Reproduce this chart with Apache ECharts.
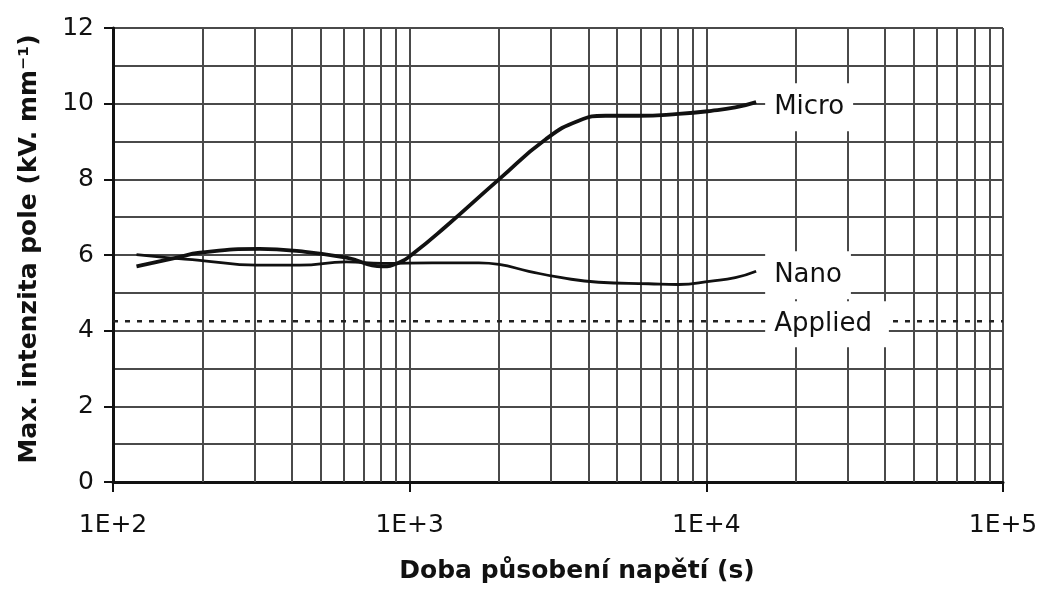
<!DOCTYPE html>
<html>
<head>
<meta charset="utf-8">
<script src="https://cdn.jsdelivr.net/npm/echarts@6/dist/echarts.min.js"></script>
<style>
html,body{margin:0;padding:0;background:#fff;}
#chart{width:1047px;height:589px;}
</style>
</head>
<body>
<div id="chart"></div>
<script>
// ---- data ----
var microX = [120, 164, 196, 312, 425, 612, 809, 922, 1018, 1327, 2000, 2876, 3715, 4577, 5902, 8054, 10390, 12520, 14720];
var microY = [5.70, 5.93, 6.06, 6.16, 6.10, 5.93, 5.70, 5.80, 6.01, 6.76, 8.0, 9.06, 9.55, 9.68, 9.68, 9.73, 9.81, 9.90, 10.04];
var nanoX = [120, 152, 196, 305, 425, 612, 809, 1190, 1712, 2000, 2521, 3254, 4335, 6383, 8054, 10390, 12520, 14720];
var nanoY = [6.01, 5.93, 5.86, 5.73, 5.73, 5.82, 5.78, 5.79, 5.79, 5.75, 5.57, 5.40, 5.28, 5.24, 5.22, 5.31, 5.40, 5.57];
var appliedX = [100, 14720, 100000];
var appliedY = [4.25, 4.25, 4.25];
var seriesNames = ['Micro', 'Nano', 'Applied'];
var xTickLabels = ['1E+2', '1E+3', '1E+4', '1E+5'];
var yTicks = [0, 2, 4, 6, 8, 10, 12];
var xTitle = 'Doba působení napětí (s)';
var yTitle = 'Max. intenzita pole (kV. mm⁻¹)';

function zip(xs, ys) { return xs.map(function (x, i) { return [x, ys[i]]; }); }

// minor vertical grid positions 2..9 x each decade
var minorX = [];
[100, 1000, 10000].forEach(function (d) { for (var k = 2; k <= 9; k++) minorX.push(k * d); });

var FONT = 'DejaVu Sans';
var GRID = '#4a4a4a';
var labelBox = {
  show: true, color: '#111', fontFamily: FONT, fontSize: 26, opacity: 1,
  backgroundColor: '#fff', padding: [11, 9, 11, 9]
};

var chart = echarts.init(document.getElementById('chart'), null, {renderer: 'canvas'});
chart.setOption({
  animation: false,
  backgroundColor: '#fff',
  grid: {left: 113, right: 44, top: 28, bottom: 107},
  xAxis: {
    type: 'log', logBase: 10, min: 100, max: 100000,
    name: xTitle, nameLocation: 'middle', nameGap: 77,
    nameTextStyle: {fontFamily: FONT, fontWeight: 'bold', fontSize: 25, color: '#111', padding: [0, 0, 0, 38]},
    axisLine: {show: true, onZero: false, lineStyle: {color: '#111', width: 3}},
    axisTick: {show: true, length: 10, lineStyle: {color: '#111', width: 2}},
    axisLabel: {
      fontFamily: FONT, fontSize: 25, color: '#111', margin: 31,
      formatter: function (v) { return xTickLabels[Math.round(Math.log10(v)) - 2]; }
    },
    splitLine: {show: true, lineStyle: {color: GRID, width: 2}}
  },
  yAxis: {
    type: 'value', min: yTicks[0], max: yTicks[yTicks.length - 1], interval: 2,
    name: yTitle, nameLocation: 'middle', nameGap: 71, nameRotate: 90,
    nameTextStyle: {fontFamily: FONT, fontWeight: 'bold', fontSize: 25, color: '#111', padding: [0, 0, 0, 12]},
    axisLine: {show: true, lineStyle: {color: '#111', width: 3}},
    axisTick: {show: true, length: 9, lineStyle: {color: '#111', width: 2}},
    axisLabel: {fontFamily: FONT, fontSize: 25, color: '#111', margin: 19},
    splitLine: {show: true, lineStyle: {color: GRID, width: 2}},
    minorTick: {show: false, splitNumber: 2},
    minorSplitLine: {show: true, lineStyle: {color: GRID, width: 2}}
  },
  series: [
    {
      type: 'line', name: 'grid', z: 1, data: [], silent: true,
      markLine: {
        silent: true, symbol: ['none', 'none'], animation: false,
        label: {show: false},
        lineStyle: {color: GRID, width: 2, type: 'solid'},
        data: minorX.map(function (v) { return {xAxis: v}; })
      }
    },
    {
      type: 'line', name: seriesNames[2], z: 5, data: zip(appliedX, appliedY),
      showSymbol: false, symbol: 'none',
      lineStyle: {color: '#222', width: 2.6, type: [5, 7]}
    },
    {
      type: 'scatter', name: seriesNames[2] + ' label', z: 6, symbolSize: 0,
      itemStyle: {opacity: 1},
      data: [[appliedX[1], appliedY[1]]],
      label: Object.assign({}, labelBox, {position: 'right', distance: 9, padding: [10, 17, 10, 9], offset: [0, 3], formatter: seriesNames[2]})
    },
    {
      type: 'line', name: seriesNames[1], z: 6, data: zip(nanoX, nanoY),
      smooth: 0.5, showSymbol: false, symbol: 'none',
      lineStyle: {color: '#111', width: 2.8},
      endLabel: Object.assign({}, labelBox, {distance: 9, offset: [0, 4], formatter: seriesNames[1]})
    },
    {
      type: 'line', name: seriesNames[0], z: 7, data: zip(microX, microY),
      smooth: 0.5, showSymbol: false, symbol: 'none',
      lineStyle: {color: '#111', width: 3.8},
      endLabel: Object.assign({}, labelBox, {distance: 9, offset: [0, 5], formatter: seriesNames[0]})
    }
  ]
});
</script>
</body>
</html>
